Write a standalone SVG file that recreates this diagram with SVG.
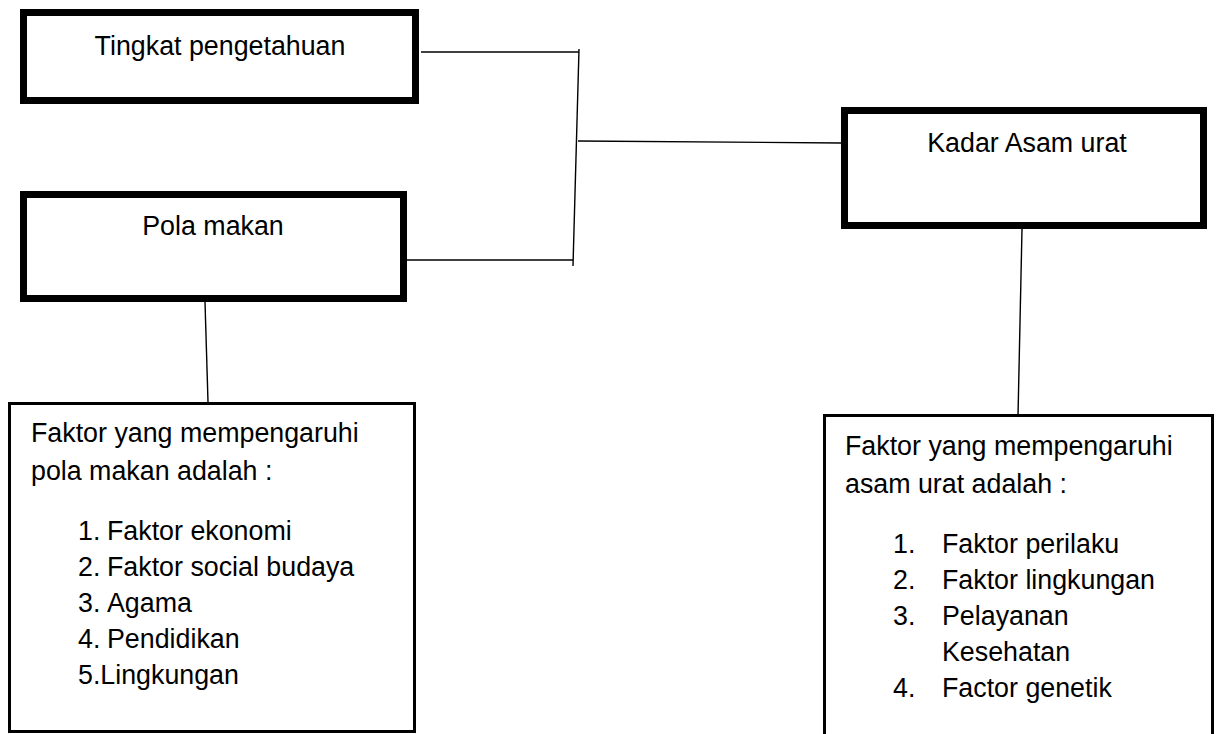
<svg xmlns="http://www.w3.org/2000/svg" width="1216" height="734" viewBox="0 0 1216 734">
<style>
.bold{fill:#fff;stroke:#000;stroke-width:7}
.thin{fill:#fff;stroke:#000;stroke-width:3}
.t{font-family:"Liberation Sans",Arial,sans-serif;font-size:26.8px;fill:#000}
.c{text-anchor:middle}
.ln{stroke:#000;stroke-width:1.4;fill:none}
</style>
<rect width="1216" height="734" fill="#fff"/>
<g id="connectors">
<line class="ln" x1="421" y1="52" x2="579" y2="52"/>
<line class="ln" x1="579" y1="49" x2="573" y2="266"/>
<line class="ln" x1="407" y1="260" x2="573" y2="260"/>
<line class="ln" x1="578" y1="141" x2="841" y2="143"/>
<line class="ln" x1="205" y1="302" x2="208" y2="402"/>
<line class="ln" x1="1022" y1="229" x2="1018" y2="416"/>
</g>
<g id="tingkat">
<rect class="bold" x="23.5" y="12.5" width="392" height="88"/>
<text class="t c" x="220" y="55">Tingkat pengetahuan</text>
</g>
<g id="pola">
<rect class="bold" x="23.5" y="194.5" width="380" height="104"/>
<text class="t c" x="213" y="235">Pola makan</text>
</g>
<g id="kadar">
<rect class="bold" x="844.5" y="110.5" width="359" height="115"/>
<text class="t c" x="1027" y="152">Kadar Asam urat</text>
</g>
<g id="faktor-pola">
<rect class="thin" x="9.5" y="403.5" width="405" height="328"/>
<text class="t" x="31" y="442">Faktor yang mempengaruhi</text>
<text class="t" x="31" y="480">pola makan adalah :</text>
<text class="t" x="78" y="540">1.</text><text class="t" x="107" y="540">Faktor ekonomi</text>
<text class="t" x="78" y="576">2.</text><text class="t" x="107" y="576">Faktor social budaya</text>
<text class="t" x="78" y="612">3.</text><text class="t" x="107" y="612">Agama</text>
<text class="t" x="78" y="648">4.</text><text class="t" x="107" y="648">Pendidikan</text>
<text class="t" x="78" y="684">5.Lingkungan</text>
</g>
<g id="faktor-asam">
<rect class="thin" x="824.5" y="415.5" width="388" height="330"/>
<text class="t" x="845" y="455">Faktor yang mempengaruhi</text>
<text class="t" x="845" y="493">asam urat adalah :</text>
<text class="t" x="893" y="553">1.</text><text class="t" x="942" y="553">Faktor perilaku</text>
<text class="t" x="893" y="589">2.</text><text class="t" x="942" y="589">Faktor lingkungan</text>
<text class="t" x="893" y="625">3.</text><text class="t" x="942" y="625">Pelayanan</text>
<text class="t" x="942" y="661">Kesehatan</text>
<text class="t" x="893" y="697">4.</text><text class="t" x="942" y="697">Factor genetik</text>
</g>
</svg>
